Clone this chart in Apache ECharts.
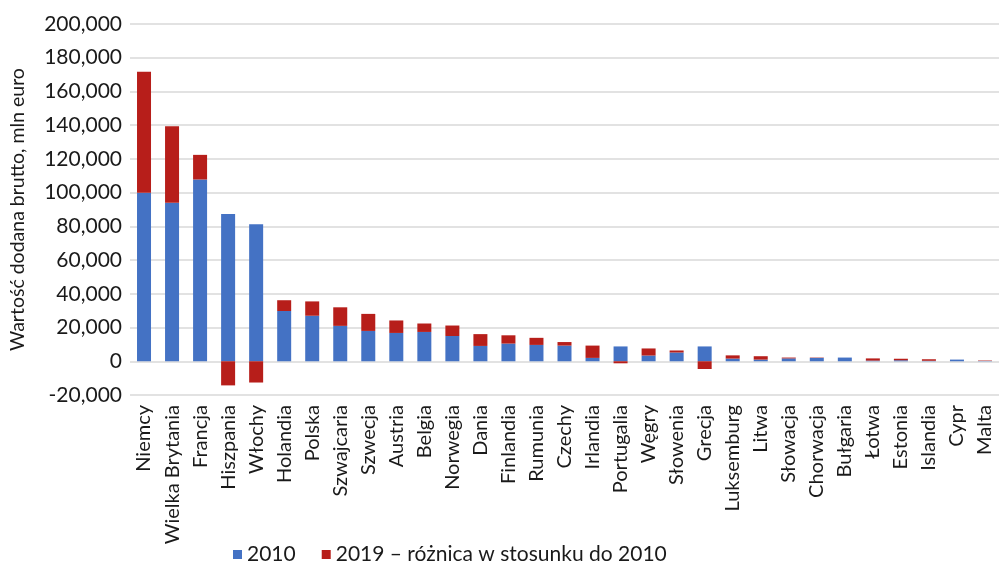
<!DOCTYPE html>
<html>
<head>
<meta charset="utf-8">
<script src="https://cdn.jsdelivr.net/npm/echarts@6/dist/echarts.min.js"></script>
<style>
  html, body { margin: 0; padding: 0; background: #fff; }
  #chart { width: 999px; height: 562px; }
</style>
</head>
<body>
<div id="chart"></div>
<script>
const countries = [
  'Niemcy', 'Wielka Brytania', 'Francja', 'Hiszpania', 'Włochy', 'Holandia',
  'Polska', 'Szwajcaria', 'Szwecja', 'Austria', 'Belgia', 'Norwegia', 'Dania',
  'Finlandia', 'Rumunia', 'Czechy', 'Irlandia', 'Portugalia', 'Węgry',
  'Słowenia', 'Grecja', 'Luksemburg', 'Litwa', 'Słowacja', 'Chorwacja',
  'Bułgaria', 'Łotwa', 'Estonia', 'Islandia', 'Cypr', 'Malta'
]

// wartość 2010, mln euro
const value2010 = [
  100000, 94000, 107800, 87400, 81300, 29800,
  27000, 21000, 18000, 16800, 17400, 15000, 9100,
  10500, 9700, 9300, 2000, 8800, 3400,
  5200, 8800, 1600, 1000, 1700, 2000,
  2200, 400, 600, 300, 1000, 200
]

// 2019 - różnica w stosunku do 2010
const diff2019 = [
  71700, 45300, 14600, -14300, -12600, 6400,
  8500, 11000, 10100, 7400, 5000, 6200, 7000,
  4900, 4200, 2100, 7300, -1200, 4200,
  1200, -4600, 1900, 2000, 500, 200,
  0, 1300, 900, 900, 0, 250
]

const yTicks = { min: -20000, max: 200000, step: 20000 }

const chart = echarts.init(document.getElementById('chart'))
chart.setOption({
  animation: false,
  textStyle: { fontFamily: 'Lato, sans-serif' },
  grid: {
    left: 121,
    right: -12,
    top: 24,
    bottom: 167
  },
  legend: {
    left: 228,
    top: 539,
    icon: 'rect',
    itemWidth: 9,
    itemHeight: 9,
    itemGap: 26,
    textStyle: { fontSize: 21, color: '#1a1a1a', fontFamily: 'Lato' },
    data: ['2010', '2019 – różnica w stosunku do 2010']
  },
  xAxis: {
    type: 'category',
    data: countries,
    axisTick: { show: false },
    axisLine: { show: false, onZero: false },
    axisLabel: {
      rotate: 90,
      interval: 0,
      margin: 10,
      fontSize: 20,
      color: '#1a1a1a',
      fontFamily: 'Lato'
    }
  },
  yAxis: {
    type: 'value',
    min: yTicks.min,
    max: yTicks.max,
    interval: yTicks.step,
    name: 'Wartość dodana brutto, mln euro',
    nameLocation: 'middle',
    nameGap: 102,
    nameTextStyle: { fontSize: 19.5, color: '#1a1a1a', fontFamily: 'Lato' },
    axisLabel: {
      fontSize: 21,
      color: '#1a1a1a',
      margin: 8,
      fontFamily: 'Lato',
      formatter: (v) => v.toLocaleString('en-US')
    },
    splitLine: { lineStyle: { color: '#d9d9d9', width: 1.5 } }
  },
  series: [
    {
      name: '2010',
      type: 'bar',
      stack: 'total',
      barWidth: 14,
      data: value2010,
      itemStyle: { color: '#4472c4' }
    },
    {
      name: '2019 – różnica w stosunku do 2010',
      type: 'bar',
      stack: 'total',
      barWidth: 14,
      data: diff2019,
      itemStyle: { color: '#b71e1a' }
    }
  ]
})
</script>
</body>
</html>
